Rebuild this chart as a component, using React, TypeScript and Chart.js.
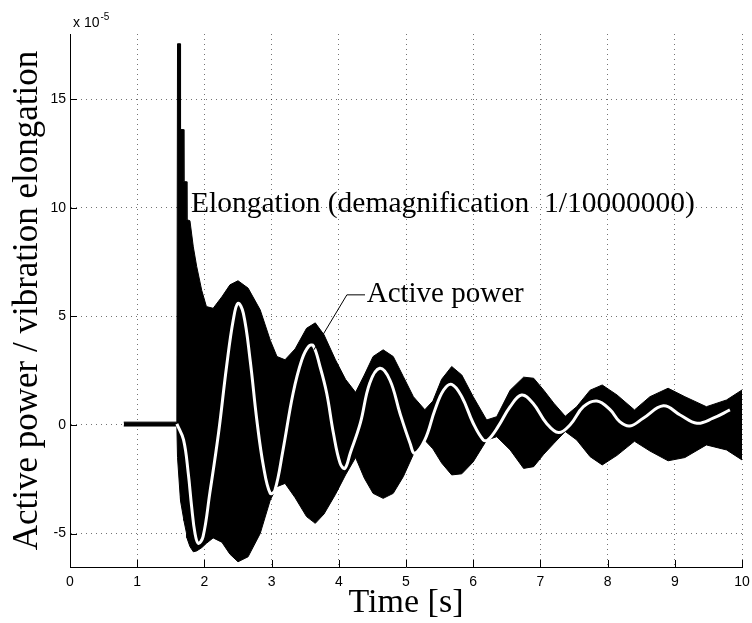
import React, { useEffect, useRef } from "react";
import { Chart, registerables } from "chart.js";

Chart.register(...registerables);

// Envelope of the dense elongation oscillation (x 1e-5)
const envTime = [
  0.8, 1.59, 1.6, 1.64, 1.645, 1.69, 1.695, 1.735, 1.74, 1.785, 1.835, 1.885, 1.96, 2.03, 2.13,
  2.26, 2.38, 2.5, 2.65, 2.83, 2.98, 3.08, 3.2, 3.35, 3.52, 3.65, 3.78, 3.95, 4.1, 4.25,
  4.38, 4.51, 4.66, 4.81, 4.96, 5.11, 5.28, 5.4, 5.53, 5.68, 5.83, 6.0, 6.2, 6.35, 6.55,
  6.75, 6.9, 7.05, 7.2, 7.37, 7.54, 7.74, 7.92, 8.14, 8.4, 8.63, 8.9, 9.15, 9.47, 9.77, 10.0,
];
const envUpper = [
  0.13, 0.13, 17.55, 17.55, 13.6, 13.6, 11.2, 11.2, 9.45, 9.4, 8.2, 7.3, 6.2, 5.45, 5.37,
  5.9, 6.45, 6.64, 6.3, 5.3, 3.9, 3.15, 3.0, 3.5, 4.45, 4.7, 4.15, 3.0, 2.1, 1.5,
  2.3, 3.15, 3.46, 3.15, 2.23, 1.3, 0.7, 1.1, 2.1, 2.69, 2.3, 1.3, 0.23, 0.38, 1.6,
  2.2, 2.15, 1.6, 1.0, 0.4, 0.84, 1.6, 1.84, 1.38, 0.69, 1.3, 1.69, 1.3, 0.84, 1.15, 1.61,
];
const envLower = [
  -0.05, -0.05, -1.5, -3.3, -3.5, -4.3, -4.4, -5.0, -5.2, -5.6, -5.84, -5.8, -5.65, -5.45, -5.2,
  -5.4, -5.95, -6.3, -6.07, -5.0, -3.46, -2.84, -2.69, -3.35, -4.22, -4.53, -4.1, -3.2, -2.3, -1.5,
  -2.45, -3.15, -3.38, -3.15, -2.38, -1.35, -0.7, -1.1, -1.75, -2.3, -2.25, -1.7, -0.7, -0.54, -1.15,
  -2.0, -1.92, -1.35, -0.85, -0.3, -0.69, -1.46, -1.84, -1.4, -0.75, -1.2, -1.65, -1.5, -0.92, -1.15, -1.61,
];

// Active power (white curve)
const powerTime = [
  1.59, 1.69, 1.76, 1.81, 1.86, 1.91, 1.98, 2.08, 2.21, 2.33, 2.43, 2.5, 2.58, 2.68, 2.78,
  2.88, 2.98, 3.05, 3.17, 3.32, 3.45, 3.55, 3.62, 3.72, 3.82, 3.92, 4.02, 4.09, 4.17, 4.32,
  4.46, 4.61, 4.76, 4.91, 5.06, 5.13, 5.28, 5.43, 5.56, 5.68, 5.83, 6.0, 6.15, 6.22, 6.37,
  6.55, 6.72, 6.89, 7.09, 7.27, 7.44, 7.64, 7.84, 8.04, 8.18, 8.33, 8.53, 8.83, 9.08, 9.33,
  9.57, 9.82,
];
const powerValue = [
  0.05, -0.69, -2.23, -3.76, -4.99, -5.45, -5.14, -3.15, -0.38, 2.69, 4.84, 5.6, 5.14, 3.0, 0.23,
  -1.92, -3.15, -3.0, -1.15, 1.46, 3.0, 3.61, 3.65, 2.69, 1.46, -0.38, -1.77, -2.0, -1.3, 0.08,
  1.92, 2.61, 2.07, 0.54, -0.84, -1.3, -0.69, 0.69, 1.61, 1.87, 1.3, 0.08, -0.69, -0.69, -0.08,
  0.84, 1.38, 1.0, 0.08, -0.35, 0.0, 0.84, 1.1, 0.69, 0.15, -0.05, 0.31, 0.88, 0.46, 0.08,
  0.31, 0.69,
];

const xTicks = [0, 1, 2, 3, 4, 5, 6, 7, 8, 9, 10];
const yTicks = [-5, 0, 5, 10, 15];
const xTitle = "Time [s]";
const yTitle = "Active power / vibration elongation";
const exponentBase = "x 10";
const exponentPower = "-5";
const elongationLabel = "Elongation (demagnification  1/10000000)";
const powerLabel = "Active power";

const SERIF = '"Liberation Serif", "Times New Roman", serif';
const SANS = '"Liberation Sans", Arial, sans-serif';

const overlayPlugin = {
  id: "overlay",
  afterDraw(chart: any) {
    const { ctx, chartArea: a, scales } = chart;
    const x = scales.x;
    const y = scales.y;
    ctx.save();
    // inward tick marks
    ctx.strokeStyle = "#000";
    ctx.lineWidth = 1;
    ctx.beginPath();
    xTicks.forEach((v) => {
      const px = Math.round(x.getPixelForValue(v)) + 0.5;
      ctx.moveTo(px, a.bottom);
      ctx.lineTo(px, a.bottom - 7);
    });
    yTicks.forEach((v) => {
      const py = Math.round(y.getPixelForValue(v)) + 0.5;
      ctx.moveTo(a.left, py);
      ctx.lineTo(a.left + 7, py);
    });
    ctx.stroke();

    // exponent label
    ctx.fillStyle = "#000";
    ctx.textAlign = "left";
    ctx.textBaseline = "alphabetic";
    ctx.font = "14px " + SANS;
    ctx.fillText(exponentBase, a.left + 3, a.top - 7);
    const w = ctx.measureText(exponentBase).width;
    ctx.font = "10px " + SANS;
    ctx.fillText(exponentPower, a.left + 4 + w, a.top - 14);

    // annotations
    ctx.font = "29.5px " + SERIF;
    ctx.fillText(elongationLabel, x.getPixelForValue(1.8), y.getPixelForValue(9.82));
    ctx.font = "29px " + SERIF;
    ctx.fillText(powerLabel, x.getPixelForValue(4.415), y.getPixelForValue(5.68));
    ctx.beginPath();
    ctx.moveTo(x.getPixelForValue(4.39), y.getPixelForValue(5.99));
    ctx.lineTo(x.getPixelForValue(4.12), y.getPixelForValue(5.99));
    ctx.lineTo(x.getPixelForValue(3.63), y.getPixelForValue(3.46));
    ctx.stroke();
    ctx.restore();
  },
};

export default function App() {
  const canvasRef = useRef<HTMLCanvasElement | null>(null);

  useEffect(() => {
    document.body.style.margin = "0";
    const canvas = canvasRef.current;
    if (!canvas) return;
    const upper = envTime.map((t, i) => ({ x: t, y: envUpper[i] }));
    const lower = envTime.map((t, i) => ({ x: t, y: envLower[i] }));
    const power = powerTime.map((t, i) => ({ x: t, y: powerValue[i] }));

    const chart = new Chart(canvas, {
      type: "line",
      data: {
        datasets: [
          {
            label: "Active power",
            data: power,
            borderColor: "#fff",
            borderWidth: 3,
            pointRadius: 0,
            fill: false,
            tension: 0.4,
          },
          {
            label: "Elongation upper",
            data: upper,
            borderColor: "#000",
            borderWidth: 1,
            pointRadius: 0,
            fill: false,
            tension: 0,
          },
          {
            label: "Elongation lower",
            data: lower,
            borderColor: "#000",
            backgroundColor: "#000",
            borderWidth: 1,
            pointRadius: 0,
            fill: "-1",
            tension: 0,
          },
        ],
      },
      options: {
        responsive: false,
        animation: false,
        devicePixelRatio: 1,
        layout: { padding: { left: 0, right: 10, top: 34, bottom: 0 } },
        plugins: { legend: { display: false }, tooltip: { enabled: false } },
        scales: {
          x: {
            type: "linear",
            min: 0,
            max: 10,
            afterBuildTicks: (s: any) => {
              s.ticks = xTicks.map((v) => ({ value: v }));
            },
            afterFit: (s: any) => {
              s.height = 56;
              s.paddingLeft = 0;
              s.paddingRight = 0;
            },
            grid: { color: "rgba(0,0,0,0.55)", lineWidth: 1, drawTicks: false },
            border: { display: true, color: "#000", width: 1, dash: [1, 4] },
            ticks: { color: "#000", font: { family: SANS, size: 14 }, padding: 7, maxRotation: 0 },
            title: {
              display: true,
              text: xTitle,
              color: "#000",
              font: { family: SERIF, size: 34 },
              padding: { top: 0, bottom: 0 },
            },
          },
          y: {
            type: "linear",
            min: -6.54,
            max: 18,
            afterBuildTicks: (s: any) => {
              s.ticks = yTicks.map((v) => ({ value: v }));
            },
            afterFit: (s: any) => {
              s.width = 70;
              s.paddingTop = 0;
              s.paddingBottom = 0;
            },
            grid: { color: "rgba(0,0,0,0.55)", lineWidth: 1, drawTicks: false },
            border: { display: true, color: "#000", width: 1, dash: [1, 4] },
            ticks: { color: "#000", font: { family: SANS, size: 14 }, padding: 4 },
            title: {
              display: true,
              text: yTitle,
              color: "#000",
              font: { family: SERIF, size: 35 },
              padding: { top: 7, bottom: 0 },
            },
          },
        },
      },
      plugins: [overlayPlugin],
    });
    return () => chart.destroy();
  }, []);

  return (
    <div style={{ width: 752, height: 623, background: "#fff" }}>
      <canvas ref={canvasRef} width={752} height={623} />
    </div>
  );
}
